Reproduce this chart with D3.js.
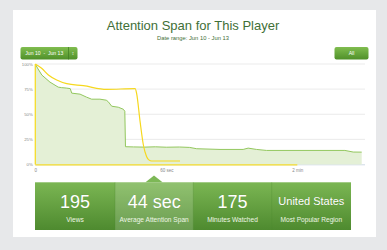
<!DOCTYPE html>
<html><head><meta charset="utf-8">
<script src="https://cdn.jsdelivr.net/npm/d3@7"></script>
<style>
html,body{margin:0;padding:0;background:#e7e8ea;}
svg{display:block;font-family:"Liberation Sans",Arial,Helvetica,sans-serif;}
</style></head>
<body>
<svg id="c" width="387" height="250"></svg>
<script>
const title = "Attention Span for This Player";
const subtitle = "Date range: Jun 10 - Jun 13";
const yTicks = [0, 25, 50, 75, 100];
const yTickLabels = ["0%", "25%", "50%", "75%", "100%"];
const xTicks = [0, 60, 120];
const xTickLabels = ["0", "60 sec", "2 min"];
// green series: seconds, percent
const viewSec = [0, 1, 3, 6.7, 10.5, 12, 14.4, 16, 16.7, 20.5, 23.5, 25.8, 29.6, 32.5, 33.4, 35, 38, 40.3, 41, 41.3, 45, 50, 55, 60, 66, 70.7, 73.9, 84.6, 95.2, 97.5, 101.3, 105.9, 141.8, 145.6, 149.5];
const viewPct = [100, 96, 89, 82, 77, 76.5, 76, 75.5, 71, 70, 67, 65, 65, 64, 62.5, 58, 57, 55, 53, 17.7, 17.5, 17.3, 17.6, 17.2, 17.4, 17, 15.7, 15, 15, 16.3, 15, 14, 14, 12.4, 12.3];
// yellow series
const avgSec = [0, 2.9, 6, 9.8, 14.4, 22, 32.7, 45.7, 46.4, 48, 49.5, 51, 52, 53.3, 66.3];
const avgPct = [100, 95.7, 89, 84, 80.4, 78.4, 74.8, 75.4, 70.8, 42.6, 19.4, 7.8, 4.6, 3.5, 3.5];
const statValues = ["195", "44 sec", "175", "United States"];
const statLabels = ["Views", "Average Attention Span", "Minutes Watched", "Most Popular Region"];
const buttonRange = "Jun 10  -  Jun 13";
const buttonAll = "All";

const svg = d3.select("#c");
const defs = svg.append("defs");
const g1 = defs.append("linearGradient").attr("id","pg").attr("x1",0).attr("y1",0).attr("x2",0).attr("y2",1);
g1.append("stop").attr("offset","0%").attr("stop-color","#7bb653");
g1.append("stop").attr("offset","100%").attr("stop-color","#4e8a2f");
const g2 = defs.append("linearGradient").attr("id","bg").attr("x1",0).attr("y1",0).attr("x2",0).attr("y2",1);
g2.append("stop").attr("offset","0%").attr("stop-color","#80bd4f");
g2.append("stop").attr("offset","100%").attr("stop-color","#4f9029");

// card
svg.append("rect").attr("x",13).attr("y",10).attr("width",363).attr("height",227).attr("fill","#fff");

svg.append("text").attr("x",193).attr("y",29.5).attr("text-anchor","middle")
  .attr("font-size",13).attr("fill","#3f6f37").text(title);
svg.append("text").attr("x",193).attr("y",40).attr("text-anchor","middle")
  .attr("font-size",5.8).attr("fill","#3f6f37").text(subtitle);

// buttons
svg.append("rect").attr("x",20.5).attr("y",47).attr("width",57).attr("height",12.5).attr("rx",2).attr("fill","url(#bg)");
svg.append("line").attr("x1",68.5).attr("x2",68.5).attr("y1",47).attr("y2",59.5).attr("stroke","#3e7a22").attr("stroke-width",0.7);
svg.append("text").attr("x",44.3).attr("y",55.3).attr("text-anchor","middle").attr("font-size",5.1).attr("fill","#fff").attr("xml:space","preserve").text(buttonRange);
svg.append("text").attr("x",73).attr("y",55.3).attr("text-anchor","middle").attr("font-size",4.8).attr("fill","#fff").text("\u2195");
svg.append("rect").attr("x",334.5).attr("y",47).attr("width",34).attr("height",12.5).attr("rx",2).attr("fill","url(#bg)");
svg.append("text").attr("x",351.5).attr("y",55.3).attr("text-anchor","middle").attr("font-size",5.1).attr("fill","#fff").text(buttonAll);

// chart
const x = d3.scaleLinear().domain([0,150]).range([35.3, 362.8]);
const y = d3.scaleLinear().domain([0,100]).range([164.5, 64]);
const plotRight = 365;

svg.append("g").selectAll("line").data(yTicks.filter(d=>d>0)).join("line")
  .attr("x1",x(0)).attr("x2",plotRight).attr("y1",d=>y(d)).attr("y2",d=>y(d))
  .attr("stroke","#e6e6e6").attr("stroke-width",0.8);
svg.append("line").attr("x1",x(0)).attr("x2",plotRight).attr("y1",y(0)+0.3).attr("y2",y(0)+0.3)
  .attr("stroke","#cfdbe6").attr("stroke-width",1);

const yAxis = d3.axisLeft(y).tickValues(yTicks).tickFormat((d,i)=>yTickLabels[i]).tickSize(0).tickPadding(2.5);
const ya = svg.append("g").attr("transform",`translate(${x(0)},0)`).call(yAxis);
ya.select(".domain").remove();
ya.selectAll("text").attr("font-size",4.3).attr("fill","#888").attr("font-family","Liberation Sans, Arial");

const xAxis = d3.axisBottom(x).tickValues(xTicks).tickFormat((d,i)=>xTickLabels[i]).tickSize(0).tickPadding(4);
const xa = svg.append("g").attr("transform",`translate(0,${y(0)})`).call(xAxis);
xa.select(".domain").remove();
xa.selectAll("text").attr("font-size",4.5).attr("fill","#888").attr("font-family","Liberation Sans, Arial");

const vData = viewSec.map((s,i)=>[s,viewPct[i]]);
const aData = avgSec.map((s,i)=>[s,avgPct[i]]);
svg.append("path").datum(vData)
  .attr("d", d3.area().x(d=>x(d[0])).y0(y(0)).y1(d=>y(d[1])))
  .attr("fill","#e4f0d6");
svg.append("path").datum(vData)
  .attr("d", d3.line().x(d=>x(d[0])).y(d=>y(d[1])))
  .attr("fill","none").attr("stroke","#93c75e").attr("stroke-width",1);
// yellow baseline & axis
svg.append("line").attr("x1",x(0)).attr("x2",x(120)).attr("y1",y(0)+0.3).attr("y2",y(0)+0.3)
  .attr("stroke","#f6dc2a").attr("stroke-width",1.3);
svg.append("line").attr("x1",x(0)).attr("x2",x(0)).attr("y1",y(0)).attr("y2",y(100))
  .attr("stroke","#f6dc2a").attr("stroke-width",1.3);
svg.append("path").datum(aData)
  .attr("d", d3.line().curve(d3.curveMonotoneX).x(d=>x(d[0])).y(d=>y(d[1])))
  .attr("fill","none").attr("stroke","#f6d81e").attr("stroke-width",1.2);

// stats panel
const px0 = 35, px1 = 351, py0 = 182.3, py1 = 230;
const cellEdges = [35, 115, 193.3, 271.7, 351];
svg.append("rect").attr("x",px0).attr("y",py0).attr("width",px1-px0).attr("height",py1-py0).attr("fill","url(#pg)");
svg.append("rect").attr("x",cellEdges[1]).attr("y",py0).attr("width",cellEdges[2]-cellEdges[1]).attr("height",py1-py0)
  .attr("fill","#ffffff").attr("opacity",0.17);
svg.append("path").attr("d",`M${154-8.5},${py0} L154,175.5 L${154+8.5},${py0} Z`).attr("fill","#7db856");
svg.append("g").selectAll("line").data(cellEdges.slice(1,4)).join("line")
  .attr("x1",d=>d).attr("x2",d=>d).attr("y1",py0).attr("y2",py1)
  .attr("stroke","#4d8a2f").attr("stroke-opacity",0.5).attr("stroke-width",0.6);
const cells = svg.append("g").selectAll("g").data(statValues).join("g")
  .attr("transform",(d,i)=>`translate(${(cellEdges[i]+cellEdges[i+1])/2},0)`);
cells.append("text").attr("y",(d,i)=>i===3?205:207.5).attr("text-anchor","middle")
  .attr("font-size",(d,i)=>i===3?11:18).attr("fill","#fff")
  .attr("style","paint-order:stroke").attr("stroke","rgba(0,0,0,0.15)").attr("stroke-width",0.6)
  .text(d=>d);
cells.append("text").attr("y",222).attr("text-anchor","middle")
  .attr("font-size",6.6).attr("fill","#eef6e6").text((d,i)=>statLabels[i]);
</script>
</body></html>
